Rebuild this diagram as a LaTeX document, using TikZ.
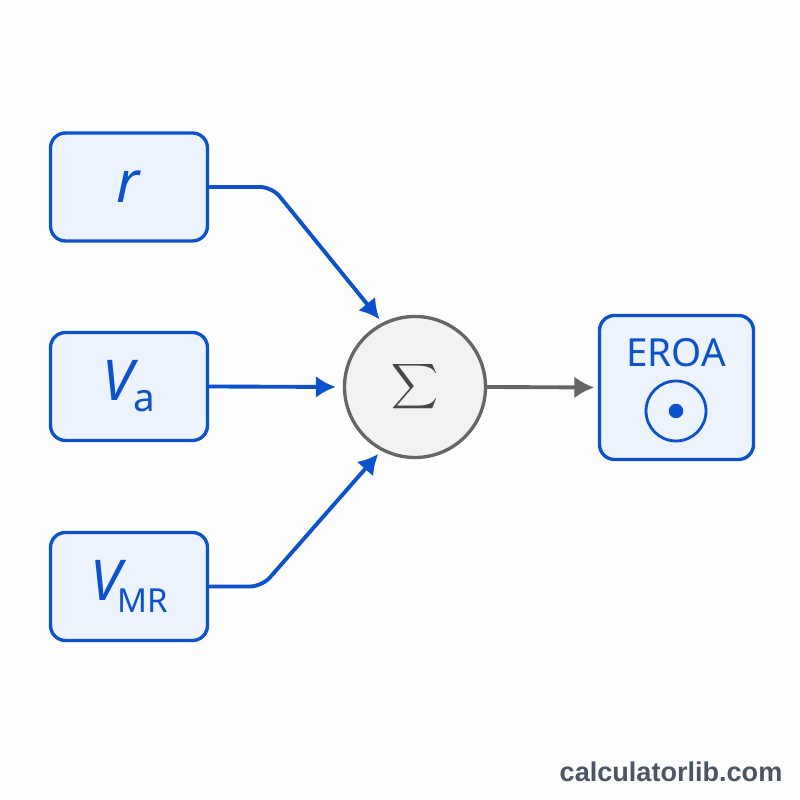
\documentclass[tikz,border=0pt]{standalone}
\usepackage{fontspec}
\usepackage{amsmath}
\usepackage{xcolor}
\setmainfont{Noto Sans}
\newfontfamily\markfont{Liberation Sans}
\usetikzlibrary{arrows.meta}
\definecolor{lineblue}{HTML}{0B52CC}
\definecolor{boxblue}{HTML}{EDF3FD}
\definecolor{sumgray}{HTML}{666666}
\definecolor{sumfill}{HTML}{F2F2F2}
\definecolor{markgray}{HTML}{4B5563}
\tikzset{
    inbox/.style={draw=lineblue,fill=boxblue,line width=0.95pt,rounded corners=1.5mm,minimum width=1.57cm,minimum height=1.08cm,inner sep=0pt,text=lineblue},
    bluearrow/.style={draw=lineblue,line width=1.1pt,rounded corners=1.2mm,-{Latex[length=2mm,width=2.2mm]}},
    grayarrow/.style={draw=sumgray,line width=1.1pt,-{Latex[length=2mm,width=2.2mm]}},
}
\begin{document}
\begin{tikzpicture}
    \useasboundingbox[fill=white!99.4!black] (0,0) rectangle (8,8);
    \node[inbox](vr)at(1.29,6.13){\fontsize{16.5}{20}\selectfont\textit{r}};
    \node[inbox](va)at(1.29,4.135){\fontsize{16}{20}\selectfont\textit{V}\kern-1.6pt\raisebox{-3.2pt}{\fontsize{11}{14}\selectfont a}};
    \node[inbox](vm)at(1.29,2.135){\fontsize{16}{20}\selectfont\textit{V}\kern-2.6pt\raisebox{-3.2pt}{\fontsize{9.4}{14}\selectfont MR}};
    \node[circle,draw=sumgray,fill=sumfill,line width=0.95pt,minimum size=1.41cm,inner sep=0pt,text=sumgray!70!black](sum)at(4.15,4.13){\fontsize{8.8}{10}\selectfont$\displaystyle\sum$};
    \node[inbox,minimum width=1.54cm,minimum height=1.44cm](eroa)at(6.765,4.125){};
    \node[text=lineblue,inner sep=0pt](eroalabel)at(6.76,4.47){\fontsize{11}{14}\selectfont EROA};
    \node[circle,draw=lineblue,line width=0.8pt,minimum size=0.6cm,inner sep=0pt](ring)at(6.76,3.89){};
    \node[circle,fill=lineblue,minimum size=0.145cm,inner sep=0pt](dot)at(6.76,3.89){};
    \node[text=markgray,anchor=east,inner sep=0pt](mark)at(7.83,0.28){\fontsize{7.7}{10}\selectfont\markfont\bfseries calculatorlib.com};
    \coordinate(b1)at(2.72,6.13);
    \coordinate(b2)at(2.62,2.135);
    \draw[bluearrow,shorten >=1.2pt] (vr.east) -- (b1) -- (sum.117);
    \draw[bluearrow,shorten >=2pt] (va.east) -- (sum.west);
    \draw[bluearrow,shorten >=1.2pt] (vm.east) -- (b2) -- (sum.242);
    \draw[grayarrow,shorten >=1pt] (sum.east) -- (eroa.west);
\end{tikzpicture}
\end{document}
